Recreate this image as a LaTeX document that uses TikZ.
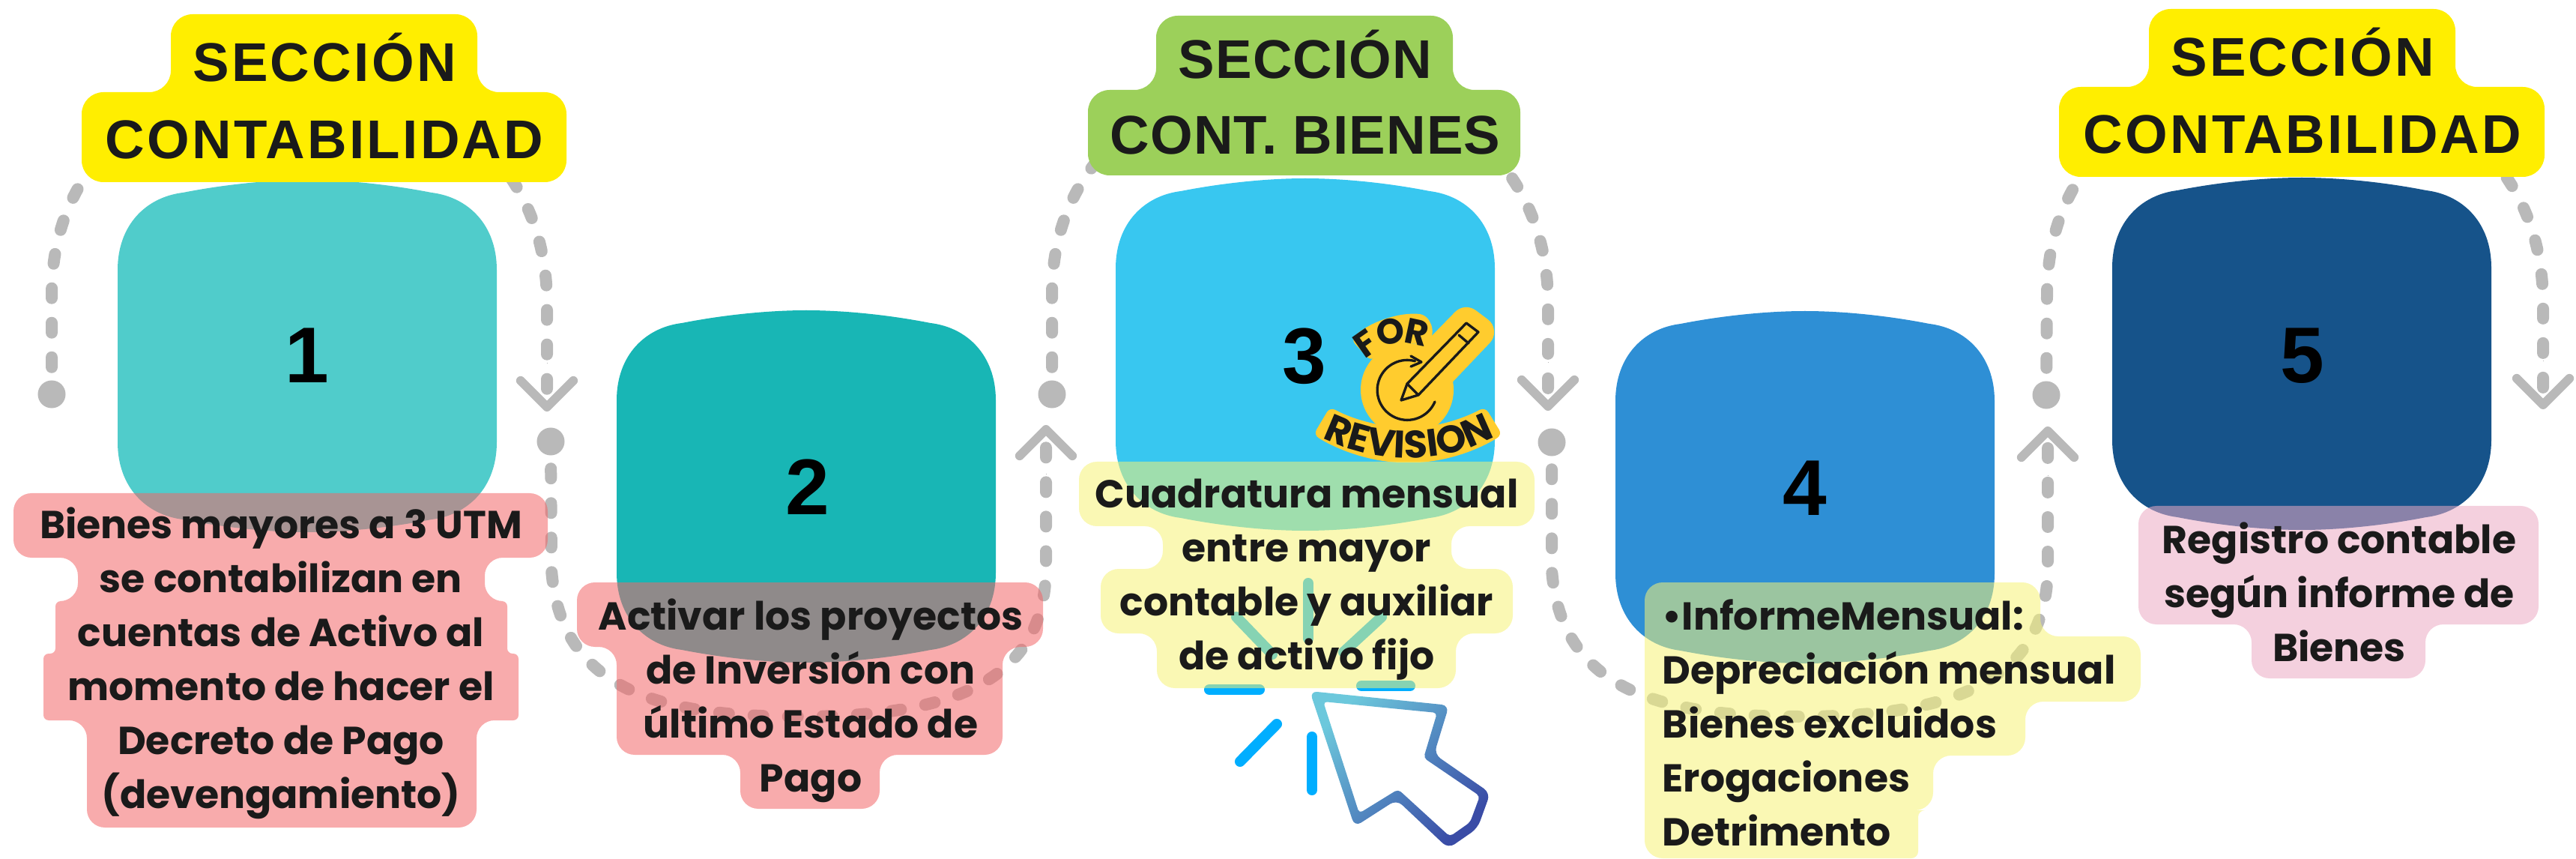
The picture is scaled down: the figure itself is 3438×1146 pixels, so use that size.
\documentclass[tikz,border=0pt]{standalone}
\usepackage{fontspec}
\setmainfont{Liberation Sans}
\newfontfamily\titlefont{Liberation Sans}[LetterSpace=4.5]
\newfontfamily\titlefontb{Liberation Sans}[LetterSpace=1.5]
\newfontfamily\bodyfont{Poppins}
\usetikzlibrary{arrows.meta,decorations.text}

\definecolor{teal1}{HTML}{50CCCB}
\definecolor{teal2}{HTML}{18B6B5}
\definecolor{sky3}{HTML}{38C7F0}
\definecolor{blue4}{HTML}{2E8FD5}
\definecolor{navy5}{HTML}{16538A}
\definecolor{secyellow}{HTML}{FFEE00}
\definecolor{secgreen}{HTML}{9CD05A}
\definecolor{ink}{HTML}{1A1A1A}
\definecolor{flowgray}{HTML}{B9B9B9}
\definecolor{notered}{HTML}{F26668}
\definecolor{noteyellow}{HTML}{F5F276}
\definecolor{notepink}{HTML}{EBA9C3}
\definecolor{sparkblue}{HTML}{00AEFF}
\definecolor{cursorlight}{HTML}{6CC8DC}
\definecolor{cursordark}{HTML}{3A4CA6}
\definecolor{badge}{HTML}{FFCC2E}

\newcommand{\blob}[3]{\fill[#3,shift={(#1,#2)}] (-253,-115) .. controls (-253,-175) and (-215,-212) .. (-166,-218) .. controls (-110,-229) and (-50,-235) .. (0,-235) .. controls (50,-235) and (110,-229) .. (166,-218) .. controls (215,-212) and (253,-175) .. (253,-115) -- (253,115) .. controls (253,175) and (215,212) .. (166,218) .. controls (110,229) and (50,235) .. (0,235) .. controls (-50,235) and (-110,229) .. (-166,218) .. controls (-215,212) and (-253,175) .. (-253,115) -- cycle;}
\newcommand{\badgefont}{\fontsize{14.6}{14.6}\bodyfont\bfseries\color{ink}}

\begin{document}
\begin{tikzpicture}[x=0.01cm,y=-0.01cm,
  flow/.style = {draw=flowgray, line width=4.55pt, line cap=round, dash pattern=on 3.7pt off 9.39pt, dash phase=8.25pt, -{Bar[width=0.01pt,line width=0.01pt,length=0pt,sep=5pt] Straight Barb[length=10pt,width=20pt,line width=3.4pt,round]}},
  dot/.style = {circle, fill=flowgray, inner sep=0pt, minimum size=0.37cm},
  num/.style = {font=\fontsize{30}{30}\selectfont\bfseries, text=black, inner sep=0pt},
  sec/.style = {font=\fontsize{20.7}{29.3}\titlefont\bfseries, text=ink, align=center, inner sep=0pt},
  note/.style = {font=\fontsize{14.8}{20.5}\bodyfont\bfseries, text=ink, align=center, inner sep=0pt},
  for/.style = {font=\fontsize{13.5}{13.5}\bodyfont\bfseries, text=ink, inner sep=0pt},
  secbox/.style = {rounded corners=0.29cm},
  notebox/.style = {rounded corners=0.24cm, fill opacity=0.55},
  spark/.style = {draw=sparkblue, line width=4pt, line cap=round},
  badgeline/.style = {draw=ink, line width=0.95pt, line cap=round, line join=round}]
\useasboundingbox (0,0) rectangle (3438,1146);

\node[dot] (d1) at (69,526) {};
\node[dot] (d2) at (735,589) {};
\node[dot] (d3) at (1404,526) {};
\node[dot] (d4) at (2071,590) {};
\node[dot] (d5) at (2731,527) {};
\coordinate (t1) at (730,549);
\coordinate (t2) at (1396,567);
\coordinate (t3) at (2066,548);
\coordinate (t4) at (2733,569);
\coordinate (t5) at (3394,546);
\draw[flow] (d1) -- (69,393) .. controls (69,0) and (730,0) .. (730,405) -- (t1);
\draw[flow] (d2) -- (736,760) .. controls (748,920) and (880,956) .. (1066,956) .. controls (1250,956) and (1396,920) .. (1396,756) -- (t2);
\draw[flow] (d3) -- (1404,393) .. controls (1404,0) and (2066,0) .. (2066,405) -- (t3);
\draw[flow] (d4) -- (2071,760) .. controls (2083,920) and (2215,956) .. (2401,956) .. controls (2585,956) and (2733,920) .. (2733,756) -- (t4);
\draw[flow] (d5) -- (2732,393) .. controls (2732,0) and (3394,0) .. (3394,405) -- (t5);

\blob{410}{475}{teal1}
\blob{1076}{649}{teal2}
\blob{1742}{473}{sky3}
\blob{2409}{650}{blue4}
\blob{3072}{472}{navy5}
\node[num] (1) at (410,474) {1};
\node[num] (2) at (1078,650) {2};
\node[num] (3) at (1741,475) {3};
\node[num] (4) at (2409,651) {4};
\node[num] (5) at (3073,475) {5};

% badge
\fill[badge] (1878,520) circle[radius=62];
\draw[badge, line width=12pt, line cap=round, line join=round] (1870,534) -- (1878,512) -- (1957,431) -- (1973,443) -- (1893,527) -- cycle;
\fill[badge, rounded corners=0.08cm] (1803,453) .. controls (1830,428) and (1870,416) .. (1903,420) -- (1913,438) -- (1908,463) .. controls (1880,455) and (1855,460) .. (1830,482) -- cycle;
\fill[badge, rounded corners=0.08cm] (1775,543) .. controls (1810,562) and (1850,570) .. (1880,570) .. controls (1915,570) and (1950,560) .. (1982,543) -- (2005,580) .. controls (1965,605) and (1920,617) .. (1880,617) .. controls (1835,617) and (1790,603) .. (1753,580) -- cycle;
\draw[badgeline] (1870,534) -- (1878,512) -- (1957,431) -- (1973,443) -- (1893,527) -- cycle;
\draw[badgeline] (1878,512) -- (1893,527) (1947,447) -- (1960,458);
\draw[badgeline] (1915,536) arc[start angle=23,end angle=285,radius=40];
\draw[badgeline] (1883,475) -- (1897,483) -- (1883,489);
\node[for,rotate=35] (f) at (1823,458) {F};
\node[for,rotate=8] (o) at (1856,442) {O};
\node[for,rotate=-12] (r) at (1891,443) {R};
\path[decorate,decoration={text along path,text align=center,text={|\badgefont|REVISION}}] (1760,582) .. controls (1800,603) and (1840,611) .. (1880,611) .. controls (1920,611) and (1960,603) .. (2000,580);

% sparks
\draw[spark] (1746,778) -- (1746,852);
\draw[spark] (1650,823) -- (1698,873);
\draw[spark] (1844,823) -- (1793,870);
\draw[spark] (1614,920) -- (1681,920);
\draw[spark] (1817,915) -- (1882,915);
\draw[spark] (1704,966) -- (1655,1016);
\draw[spark] (1751,983) -- (1751,1054);
\shade[even odd rule, top color=cursorlight, bottom color=cursordark, shading angle=45] (1748,922) [rounded corners=0.1cm] -- (1934,941) -- (1914,1006) -- (1989,1058) -- (1972,1105) -- (1933,1132) -- (1864,1067) -- (1808,1103) -- cycle [sharp corners] (1766,936) [rounded corners=0.05cm] -- (1918,951) -- (1900,1011) -- (1975,1062) -- (1962,1097) -- (1935,1116) -- (1866,1053) -- (1814,1085) -- cycle;

% section labels
\fill[secyellow,secbox] (432,19) -| (637,123) -| (756,243) -| (109,123) -| (228,19) -- cycle;
\fill[secgreen,secbox] (1741,21) -| (1939,120) -| (2029,234) -| (1452,120) -| (1543,21) -- cycle;
\fill[secyellow,secbox] (3072,12) -| (3277,116) -| (3396,236) -| (2748,116) -| (2868,12) -- cycle;
\node[sec] (s1) at (433,128) {SECCIÓN\\CONTABILIDAD};
\node[sec,font=\fontsize{20.7}{28.6}\titlefontb\bfseries] (s3) at (1742,123) {SECCIÓN\\CONT. BIENES};
\node[sec] (s5) at (3073,121) {SECCIÓN\\CONTABILIDAD};

% notes
\fill[notered,notebox] (300,658) -| (731,744) -| (647,802) [rounded corners=0.07cm] -| (677,872) -| (692,961) [rounded corners=0.24cm] -| (636,1104) -| (116,961) [rounded corners=0.07cm] -| (58,872) -| (74,802) [rounded corners=0.24cm] -| (104,744) -| (18,658) -- cycle;
\fill[notered,notebox] (1082,777) -| (1392,863) -| (1338,1007) -| (1174,1079) -| (988,1007) -| (823,863) -| (770,777) -- cycle;
\fill[noteyellow,notebox] (1744,616) -| (2048,702) -| (1937,759) -| (2019,845) -| (1943,918) -| (1544,845) -| (1469,759) -| (1552,702) -| (1440,616) -- cycle;
\fill[noteyellow,notebox] (2500,777) -| (2723,849) -| (2857,936) -| (2703,1008) -| (2580,1081) [rounded corners=0.09cm] -| (2560,1145) [rounded corners=0.24cm] -| (2195,777) -- cycle;
\fill[notepink,notebox] (3122,675) -| (3388,833) -| (3237,905) -| (3005,833) -| (2854,675) -- cycle;
\node[note] (n1) at (375,885) {Bienes mayores a 3 UTM\\se contabilizan en\\cuentas de Activo al\\momento de hacer el\\Decreto de Pago\\(devengamiento)};
\node[note] (n2) at (1082,935) {Activar los proyectos\\de Inversión con\\último Estado de\\Pago};
\node[note] (n3) at (1744,773) {Cuadratura mensual\\entre mayor\\contable y auxiliar\\de activo fijo};
\node[note,align=left,anchor=west] (n4) at (2218,964) {•InformeMensual:\\Depreciación mensual\\Bienes excluidos\\Erogaciones\\Detrimento};
\node[note] (n5) at (3122,790) {Registro contable\\según informe de\\Bienes};
\end{tikzpicture}
\end{document}
